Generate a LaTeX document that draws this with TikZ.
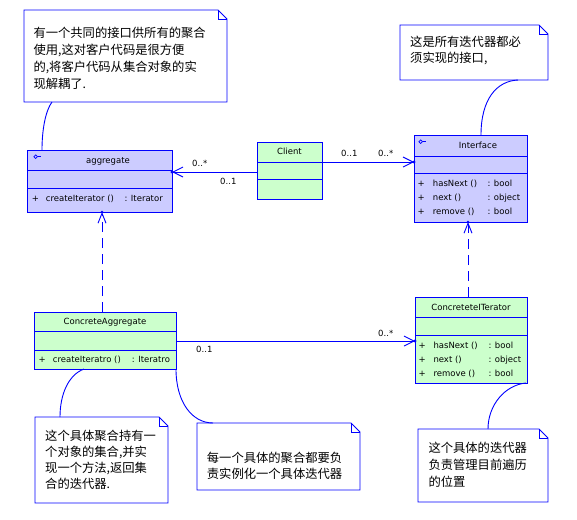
\documentclass[tikz,border=0pt]{standalone}
\usepackage{fontspec}
\setmainfont{DejaVu Sans}
\newfontfamily\cjk{Noto Sans CJK SC}
\usetikzlibrary{arrows.meta,calc}
\definecolor{umlblue}{RGB}{0,0,255}
\definecolor{ifill}{RGB}{204,204,255}
\definecolor{cfill}{RGB}{204,255,204}
\newcommand\notefold[1]{%
  \draw[ln] (#1.north west) -- ([xshift=-9pt]#1.north east) -- ([yshift=-9pt]#1.north east) -- (#1.south east) -- (#1.south west) -- cycle;
  \draw[ln] ([xshift=-9pt]#1.north east) -- ([xshift=-9pt,yshift=-9pt]#1.north east) -- ([yshift=-9pt]#1.north east);}
\tikzset{
  ln/.style={draw=umlblue, line width=0.9pt},
  cls/.style={draw=umlblue, line width=0.9pt, inner sep=0pt, outer sep=0pt},
  notebox/.style={draw=none, fill=white, inner sep=0pt, outer sep=0pt},
  ttl/.style={font=\fontsize{8.5}{10}\selectfont, inner sep=0pt, anchor=base},
  txt/.style={font=\fontsize{8.5}{10}\selectfont, inner sep=0pt, anchor=base west},
  notetext/.style={font=\cjk\fontsize{12.3}{16}\selectfont, inner sep=0pt, anchor=base west},
  assoc/.style={ln, -{Straight Barb[length=10pt,width=10pt,line width=0.9pt]}},
  realz/.style={ln, dash pattern=on 10pt off 6pt, -{Straight Barb[length=10pt,width=8pt,line width=0.9pt]}},
}
\begin{document}
\begin{tikzpicture}[x=1pt,y=-1pt]
\useasboundingbox (0,0) rectangle (577,519);

% ---------- classes ----------
\node[cls, fill=ifill, minimum width=145pt, minimum height=62pt] (agg) at (99.5,181) {};
\draw[ln] (agg.west |- 0,170) -- (agg.east |- 0,170);
\draw[ln] (agg.west |- 0,188) -- (agg.east |- 0,188);
\draw[ln, line width=0.7pt] (35.7,156.7) circle (1.8pt);
\draw[ln, line width=0.7pt] (37.5,156.7) -- (41,156.7);
\node[ttl] (aggname) at (108,163.5) {aggregate};
\node[txt] (aggp) at (31.7,201.5) {+};
\node[txt] (aggop) at (45.7,201.5) {createIterator ()};
\node[txt] (aggty) at (124.3,201.5) {: Iterator};

\node[cls, fill=cfill, minimum width=65pt, minimum height=57pt] (client) at (289.5,170.5) {};
\draw[ln] (client.west |- 0,162) -- (client.east |- 0,162);
\draw[ln] (client.west |- 0,179) -- (client.east |- 0,179);
\node[ttl] (clientname) at (289.5,154) {Client};

\node[cls, fill=ifill, minimum width=113pt, minimum height=87pt] (iface) at (470.5,178.5) {};
\draw[ln] (iface.west |- 0,156) -- (iface.east |- 0,156);
\draw[ln] (iface.west |- 0,173) -- (iface.east |- 0,173);
\draw[ln, line width=0.7pt] (420.7,141.7) circle (1.8pt);
\draw[ln, line width=0.7pt] (422.5,141.7) -- (426,141.7);
\node[ttl] (ifname) at (478,148.3) {Interface};
\node[txt] (ifp1) at (417.5,186.5) {+};
\node[txt] (ifo1) at (432.7,186.5) {hasNext ()};
\node[txt] (ift1) at (487.3,186.5) {: bool};
\node[txt] (ifp2) at (417.5,200.5) {+};
\node[txt] (ifo2) at (432.7,200.5) {next ()};
\node[txt] (ift2) at (487.3,200.5) {: object};
\node[txt] (ifp3) at (417.5,214.5) {+};
\node[txt] (ifo3) at (432.7,214.5) {remove ()};
\node[txt] (ift3) at (487.3,214.5) {: bool};

\node[cls, fill=cfill, minimum width=142pt, minimum height=57pt] (ca) at (105,340.5) {};
\draw[ln] (ca.west |- 0,331) -- (ca.east |- 0,331);
\draw[ln] (ca.west |- 0,350) -- (ca.east |- 0,350);
\node[ttl] (caname) at (105,324) {ConcreteAggregate};
\node[txt] (cap) at (38.3,362) {+};
\node[txt] (caop) at (52.7,362) {createIteratro ()};
\node[txt] (caty) at (131.7,362) {: Iteratro};

\node[cls, fill=cfill, minimum width=112pt, minimum height=86pt] (ci) at (471,340) {};
\draw[ln] (ci.west |- 0,317) -- (ci.east |- 0,317);
\draw[ln] (ci.west |- 0,335) -- (ci.east |- 0,335);
\node[ttl] (ciname) at (471,310) {ConcreteteITerator};
\node[txt] (cip1) at (418.3,348) {+};
\node[txt] (cio1) at (433.3,348) {hasNext ()};
\node[txt] (cit1) at (488.3,348) {: bool};
\node[txt] (cip2) at (418.3,362.5) {+};
\node[txt] (cio2) at (433.3,362.5) {next ()};
\node[txt] (cit2) at (488.3,362.5) {: object};
\node[txt] (cip3) at (418.3,376.5) {+};
\node[txt] (cio3) at (433.3,376.5) {remove ()};
\node[txt] (cit3) at (488.3,376.5) {: bool};

% ---------- associations ----------
\draw[assoc] ([yshift=-1.5pt]client.west) -- ([yshift=-1.5pt]client.west -| agg.east);
\fill[umlblue] ([yshift=-1.5pt]client.west -| agg.east) circle (1.6pt);
\draw[assoc] ([yshift=8.5pt]client.east) -- ([yshift=8.5pt]client.east -| iface.west);
\fill[umlblue] ([yshift=8.5pt]client.east -| iface.west) circle (1.6pt);
\draw[assoc] ([yshift=-0.5pt]ca.east) -- ([yshift=-0.5pt]ca.east -| ci.west);
\fill[umlblue] ([yshift=-0.5pt]ca.east -| ci.west) circle (1.6pt);

\node[txt] (m1) at (192,166.5) {0..*};
\node[txt] (m2) at (220,184.5) {0..1};
\node[txt] (m3) at (341,156) {0..1};
\node[txt] (m4) at (378,156) {0..*};
\node[txt] (m5) at (196,352.5) {0..1};
\node[txt] (m6) at (378,336) {0..*};

% ---------- realizations ----------
\draw[realz] ([xshift=-3pt]ca.north) -- ([xshift=-3pt]ca.north |- agg.south);
\fill[umlblue] ([xshift=-3pt]ca.north |- agg.south) circle (1.4pt);
\draw[realz] ([xshift=-3pt]ci.north) -- ([xshift=-3pt]ci.north |- iface.south);
\fill[umlblue] ([xshift=-3pt]ci.north |- iface.south) circle (1.4pt);

% ---------- notes ----------
\node[notebox, minimum width=203pt, minimum height=92pt] (n1) at (125.5,56) {};
\notefold{n1}
\node[notetext] (n1t) at (33.3,37.5) {\vtop{\baselineskip=17pt
  \hbox{有一个共同的接口供所有的聚合}\hbox{使用,这对客户代码是很方便}\hbox{的,将客户代码从集合对象的实}\hbox{现解耦了.}}};

\node[notebox, minimum width=148pt, minimum height=55pt] (n2) at (474,52.5) {};
\notefold{n2}
\node[notetext] (n2t) at (410,46) {\vtop{\baselineskip=16pt
  \hbox{这是所有迭代器都必}\hbox{须实现的接口,}}};

\node[notebox, minimum width=133pt, minimum height=86pt] (n3) at (101.5,460) {};
\notefold{n3}
\node[notetext] (n3t) at (45,440) {\vtop{\baselineskip=16pt
  \hbox{这个具体聚合持有一}\hbox{个对象的集合,并实}\hbox{现一个方法,返回集}\hbox{合的迭代器.}}};

\node[notebox, minimum width=163pt, minimum height=67pt] (n4) at (278.5,456.5) {};
\notefold{n4}
\node[notetext] (n4t) at (206.7,462) {\vtop{\baselineskip=16pt
  \hbox{每一个具体的聚合都要负}\hbox{责实例化一个具体迭代器}}};

\node[notebox, minimum width=130pt, minimum height=73pt] (n5) at (483,465.5) {};
\notefold{n5}
\node[notetext] (n5t) at (428.3,452) {\vtop{\baselineskip=17pt
  \hbox{这个具体的迭代器}\hbox{负责管理目前遍历}\hbox{的位置}}};

% ---------- note links ----------
\coordinate (k1a) at (52,102);
\coordinate (k1b) at (42,150);
\draw[ln] (k1a) .. controls (46,110) and (42,128) .. (k1b);
\coordinate (k2a) at (518,80);
\coordinate (k2b) at (481,135);
\draw[ln] (k2a) .. controls (496,81) and (481,100) .. (k2b);
\coordinate (k3a) at (84,369);
\coordinate (k3b) at (60,417);
\draw[ln] (k3a) .. controls (68,375) and (60,395) .. (k3b);
\coordinate (k4a) at (176,369);
\coordinate (k4b) at (213,423);
\draw[ln] (k4a) .. controls (176,402) and (192,423) .. (k4b);
\coordinate (k5a) at (526,383);
\coordinate (k5b) at (488,429);
\draw[ln] (k5a) .. controls (505,385) and (488,405) .. (k5b);
\end{tikzpicture}
\end{document}
